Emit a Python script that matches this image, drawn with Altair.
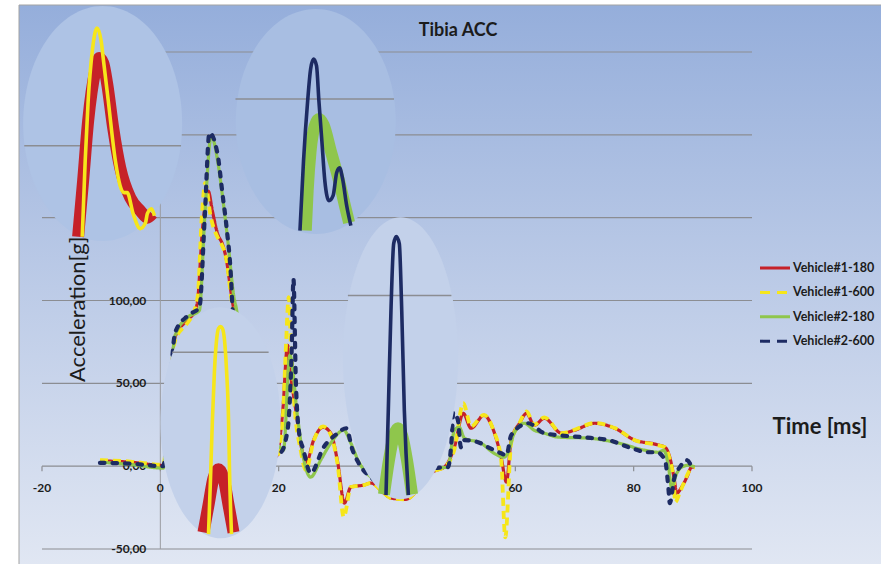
import altair as alt
import pandas as pd

# ---------------------------------------------------------------- series data
series_names = ["Vehicle#1-180", "Vehicle#1-600", "Vehicle#2-180", "Vehicle#2-600"]
series_colors = ["#c62128", "#f6e61a", "#8fc64c", "#1d2b63"]
series_dash = [[1, 0], [8, 5], [1, 0], [4.5, 8]]
series_width = [3.2, 3.8, 3.2, 4.2]
series_cap = ["butt", "butt", "butt", "round"]
legend_dash = [[1, 0], [10, 7], [1, 0], [10, 7]]

v1_180_t = [-10.2, -5, 0.5, 1.5, 2.5, 4.5, 5.9, 6.3, 7.1, 8.1, 8.8, 9.7, 10.5, 11.2, 11.9,
            12.7, 14, 16, 18, 19.6, 20.7, 21.5, 22.0, 22.9, 23.7, 24.7, 25.9, 27.5, 28.8, 30.0,
            31.1, 32.2, 34.4, 35.6, 37.8, 39.0, 41.5, 43.5, 45.2, 46.6, 48.0, 49.7, 51.2, 52.5,
            54.7, 56.3, 57.6, 58.5, 59.3, 60.7, 61.9, 63.2, 64.9, 67.8, 70.0, 73.4, 76.8, 80.2,
            83.6, 85.3, 86.1, 86.8, 87.3, 88.1, 89.0, 89.8, 90.3]
v1_180_a = [3.2, 2.4, 0.5, 40, 78, 88, 94, 100, 142, 166, 154, 140, 134, 124, 106,
            88, 55, 20, 5, 6, 33.7, 72.9, 56, 33.7, 13.9, 2.5, 15.7, 23.5, 19.9, 1.8,
            -22.3, -12.6, -11.4, -10.2, -16.3, -19.3, -20, -14, -5, -2.5, -0.6, 11.4, 31.9, 22.9,
            30.7, 21.7, 5.4, -9.6, 15.7, 25.9, 31.9, 24.7, 28.9, 19.9, 21.7, 25.9, 22.9, 15.7,
            13.3, 11.4, 5.4, -6.6, -16.3, -12.7, -6.6, -0.6, -0.6]

v1_600_t = [-10.2, -5, 0.5, 1.5, 2.5, 4.5, 5.1, 6.3, 7.0, 7.6, 8.5, 9.7, 10.2, 11.2, 11.9,
            12.7, 14, 16, 18, 19.6, 20.7, 21.2, 21.7, 22.1, 22.7, 23.7, 24.6, 25.9, 27.5, 28.8,
            30.0, 31.0, 32.2, 34.4, 35.6, 37.8, 39.0, 41.5, 43.5, 45.2, 46.6, 48.0, 49.7, 51.2,
            52.5, 54.7, 56.3, 57.6, 58.3, 59.3, 60.7, 61.9, 63.2, 64.9, 67.8, 70.0, 73.4, 76.8,
            80.2, 83.6, 85.3, 86.1, 86.8, 87.0, 87.8, 88.5, 89.5, 90.3]
v1_600_a = [3.6, 2.8, 0.8, 40, 76, 86, 89, 102, 150, 171, 151, 138, 135, 124, 104,
            86, 55, 20, 5, 5, 30, 70, 102, 70, 35, 10, -2.4, 15, 24, 19,
            0, -30.7, -12.6, -11.4, -10.2, -16.3, -19.3, -20, -14, -5, -2.5, -0.6, 10, 38,
            24, 31, 21.7, 4, -43, 14, 26, 33, 25, 29.5, 19.9, 22, 26, 23,
            15.7, 13, 11.4, 4, -10, -21.8, -16, -10, -2.4, -0.6]

v2_180_t = [-10.2, -5, 0.5, 1.5, 2.5, 4.7, 6.6, 7.5, 8.6, 9.7, 10.5, 11.5, 12.4, 12.9, 14,
            16, 18, 20.0, 20.8, 21.9, 23.2, 24.1, 25.4, 27.1, 28.8, 31.0, 32.2, 33.5, 36.0, 40.0,
            44.0, 46.3, 48.6, 49.7, 50.5, 51.4, 54.2, 56.4, 58.1, 58.8, 59.8, 61.5, 63.2, 64.9,
            67.3, 72.4, 77.5, 81.9, 84.2, 85.1, 85.9, 86.4, 87.3, 88.1, 89.3, 90.3]
v2_180_a = [2.4, 1, -1.2, 40, 79, 90, 94, 150, 199.4, 184, 163, 133, 103, 94, 60,
            22, 10, 12, 9.6, 67, 29.5, 6.6, -6.6, 3.6, 13.9, 21.7, 13.9, 3, -8, -15,
            -10, -1.2, -0.6, 21.7, 23.5, 16.9, 13.9, 7.8, 5.4, 8.4, 19.9, 25.9, 21.7, 19.9,
            17.5, 16.9, 13.9, 9.6, 8.4, 9.6, -0.6, -12.7, -4.2, -0.6, 0.6, -0.6]

v2_600_t = [-10.2, -5, 0.5, 1.5, 2.5, 4.7, 6.6, 7.5, 8.3, 9.66, 10.5, 11.2, 11.9, 12.2, 12.7,
            14, 16, 18, 20.3, 21.5, 22.2, 22.5, 22.9, 23.4, 24.2, 25.4, 27.6, 30.0, 31.4, 32.5,
            33.5, 36.0, 40.0, 44.0, 46.3, 48.6, 49.3, 49.5, 50.3, 50.8, 51.4, 53.7, 55.4, 57.6,
            58.5, 59.3, 62.2, 64.9, 71.2, 75.8, 79.2, 82.5, 83.9, 85.3, 85.9, 86.1, 86.9, 87.8,
            89.0, 89.8]
v2_600_a = [2, 1.5, 0, 40, 80.7, 91, 95.8, 150, 201.2, 188.6, 164.5, 144, 116.3, 95.8, 82,
            50, 20, 10, 8.4, 21.7, 70, 113, 51.8, 21.7, 9.6, -4.2, 11.4, 19.9, 22.9, 9.6,
            2, -8, -15, -10, -1.2, -0.6, 20, 32.5, 27.7, 11.4, 15.7, 14.5, 11.4, 7.8,
            6.6, 18.7, 25.9, 19.9, 17.5, 15.7, 11.4, 8.4, 8.4, 3.6, -14.5, -22.3, -6.6, -0.6,
            3.6, -0.6]

series_t = [v1_180_t, v1_600_t, v2_180_t, v2_600_t]
series_a = [v1_180_a, v1_600_a, v2_180_a, v2_600_a]

# ------------------------------------------------------- magnified detail views
det1_red_t = [-13.9, -13.05, -12.2, -11.0, -10.34, -9.66, -8.98, -7.97, -6.78, -5.08, -3.39, -2.2, -1.36]
det1_red_a = [138.5, 172.3, 208.4, 238.6, 246.4, 243.4, 230.7, 204.2, 180.1, 162.0, 154.2, 150.0, 152.4]
det1_yel_t = [-13.2, -12.7, -12.2, -11.5, -10.7, -10.0, -9.66, -8.8, -7.6, -6.8, -6.1, -5.6, -4.6,
              -3.4, -2.5, -2.2, -1.5, -1.0]
det1_yel_a = [138.5, 184.3, 220.5, 250.6, 264.5, 256.6, 246.4, 220.5, 184.3, 169.3, 165.1, 165.1, 152.4,
              143.4, 147.0, 152.4, 155.4, 151.2]

det2_grn_t = [24.58, 24.9, 25.4, 26.1, 26.8, 27.6, 28.8, 30.2, 31.2, 31.9]
det2_grn_a = [142.2, 166.3, 190.4, 205.4, 209.6, 206.0, 190.4, 172.3, 157.2, 147.0]
det2_nav_t = [23.6, 24.2, 24.9, 25.4, 25.9, 26.4, 26.8, 27.3, 27.8, 28.5, 29.2, 29.8, 30.3, 30.8, 31.5, 32.2]
det2_nav_a = [142.2, 184.3, 220.5, 239.8, 245.8, 241.6, 220.5, 196.4, 172.3, 160.2, 163.3, 177.1, 180.1,
              173.5, 157.2, 145.2]

det3_red_t = [7.29, 8.14, 8.98, 9.83, 10.68, 11.53, 12.37]
det3_red_a = [-40.0, -23.5, -7.2, -1.8, -7.2, -23.5, -40.0]
det3_yel_t = [8.14, 8.47, 8.8, 9.15, 9.5, 9.83, 10.17, 10.5, 10.85, 11.19, 11.53, 11.69, 12.03]
det3_yel_a = [-41.0, -8.4, 27.7, 57.8, 75.9, 83.1, 84.3, 83.1, 75.9, 57.8, 27.7, -2.4, -41.0]

det4_grn_t = [37.8, 38.64, 39.49, 40.17, 40.85, 41.69, 42.54]
det4_grn_a = [-17.0, 3.6, 18.7, 22.9, 18.7, 3.6, -17.0]
det4_nav_t = [38.14, 38.53, 38.98, 39.44, 39.88, 40.39, 40.8, 41.24, 41.92]
det4_nav_a = [-17.5, 33.7, 94, 134.3, 138.6, 134.3, 94, 33.7, -17.5]

# (series index, wide band?, times, accelerations)
detail_curves = [
    (0, True, det1_red_t, det1_red_a), (1, False, det1_yel_t, det1_yel_a),
    (2, True, det2_grn_t, det2_grn_a), (3, False, det2_nav_t, det2_nav_a),
    (0, True, det3_red_t, det3_red_a), (1, False, det3_yel_t, det3_yel_a),
    (2, True, det4_grn_t, det4_grn_a), (3, False, det4_nav_t, det4_nav_a),
]

# magnifier lenses: centre (ms, g), width/height in px, tint
lens_cx = [-9.75, 26.27, 10.17, 40.59]
lens_cy = [206.9, 208.1, 26.2, 65.1]
lens_w = [159, 160, 120, 115]
lens_h = [235, 225, 231, 282]
lens_fill = ["#aec3e5", "#a8bee2", "#c3d1ea", "#c3d1ea"]

# grid line inside each lens: level (g) and extent (ms)
lens_grid_v = [193.4, 221.7, 68.7, 103.0]
lens_grid_x0 = [-23.0, 12.7, 2.0, 31.7]
lens_grid_x1 = [3.5, 39.5, 18.3, 49.2]

x_ticks = [-20, 0, 20, 40, 60, 80, 100]
y_grid = [-50, 50, 100, 150, 200, 250]
y_labels = [-50, 0, 50, 100]

# ---------------------------------------------------------------- layout
PW, PH = 710, 497
FONT = "Lato, 'Open Sans', sans-serif"
INK = "#1c1c1c"
GRID = "#8b8d92"

xs = alt.Scale(domain=[-20, 100], nice=False, zero=False)
ys = alt.Scale(domain=[-50, 250], nice=False, zero=False)


def X(field):
    return alt.X(field, type="quantitative", scale=xs, axis=None)


def Y(field):
    return alt.Y(field, type="quantitative", scale=ys, axis=None)


one = pd.DataFrame({"k": [0]})

bg_fill = alt.LinearGradient(
    gradient="linear",
    stops=[alt.GradientStop(color="#95aedb", offset=0),
           alt.GradientStop(color="#bccbe7", offset=0.5),
           alt.GradientStop(color="#e1e7f3", offset=1)],
    x1=0, x2=0, y1=0, y2=1)

background = alt.Chart(one).mark_rect(fill=bg_fill, stroke="#a3a3a3", strokeWidth=1).encode(
    x=alt.value(-23), x2=alt.value(PW + 135), y=alt.value(-47), y2=alt.value(PH + 20))

grid_df = pd.DataFrame({"v": y_grid, "x0": -20, "x1": 100})
grid = alt.Chart(grid_df).mark_rule(color=GRID, strokeWidth=1.2).encode(
    x=X("x0"), x2="x1", y=Y("v"))

xaxis_line = alt.Chart(pd.DataFrame({"v": [0], "x0": [-20], "x1": [100]})).mark_rule(
    color=GRID, strokeWidth=1.2).encode(x=X("x0"), x2="x1", y=Y("v"))
yaxis_line = alt.Chart(pd.DataFrame({"v": [0], "y0": [-50], "y1": [250]})).mark_rule(
    color="#9a9ca0", strokeWidth=1).encode(x=X("v"), y=Y("y0"), y2="y1")

tick_df = pd.DataFrame({"t": x_ticks, "a0": 0, "a1": -3})
x_tick_marks = alt.Chart(tick_df).mark_rule(color=GRID, strokeWidth=1.2).encode(
    x=X("t"), y=Y("a0"), y2="a1")
x_tick_labels = alt.Chart(tick_df.assign(lab=[str(v) for v in x_ticks])).mark_text(
    font=FONT, fontSize=12, fontWeight="bold", color=INK, dy=22, baseline="middle").encode(
    x=X("t"), y=Y("a0"), text="lab:N")

ylab_df = pd.DataFrame({"v": y_labels, "x0": 0,
                        "lab": [f"{v:.2f}".replace(".", ",") for v in y_labels]})
y_tick_labels = alt.Chart(ylab_df).mark_text(
    font=FONT, fontSize=12, fontWeight="bold", color=INK, dx=-14, align="right",
    baseline="middle").encode(x=X("x0"), y=Y("v"), text="lab:N")

y_title = alt.Chart(one).mark_text(
    text="Acceleration[g]", font=FONT, fontSize=22, color=INK, angle=270, align="left",
    baseline="middle").encode(x=alt.value(36), y=alt.value(330))

# main traces
traces = []
for i, name in enumerate(series_names):
    df = pd.DataFrame({"t": series_t[i], "a": series_a[i], "series": name})
    traces.append(alt.Chart(df).mark_line(
        color=series_colors[i], strokeWidth=series_width[i], strokeDash=series_dash[i],
        strokeCap=series_cap[i], interpolate="monotone").encode(x=X("t"), y=Y("a")))

# lenses drawn as ellipse-shaped symbols
k = 0.5523
paths = []
for w, h in zip(lens_w, lens_h):
    r = w / h
    paths.append(
        f"M 0 -1 C {k*r:.4f} -1 {r:.4f} {-k} {r:.4f} 0 "
        f"C {r:.4f} {k} {k*r:.4f} 1 0 1 "
        f"C {-k*r:.4f} 1 {-r:.4f} {k} {-r:.4f} 0 "
        f"C {-r:.4f} {-k} {-k*r:.4f} -1 0 -1 Z")
lens_df = pd.DataFrame({"cx": lens_cx, "cy": lens_cy, "fill": lens_fill,
                        "size": [h * h for h in lens_h], "path": paths})
lenses = alt.Chart(lens_df).mark_point(filled=True, opacity=1, strokeWidth=0).encode(
    x=X("cx"), y=Y("cy"),
    shape=alt.Shape("path:N", scale=None),
    size=alt.Size("size:Q", scale=None),
    color=alt.Color("fill:N", scale=None))

lens_grid = alt.Chart(pd.DataFrame({"v": lens_grid_v, "x0": lens_grid_x0, "x1": lens_grid_x1})).mark_rule(
    color=GRID, strokeWidth=1.5).encode(x=X("x0"), x2="x1", y=Y("v"))

detail_layers = []
for si, wide, tt, aa in detail_curves:
    df = pd.DataFrame({"t": tt, "a": aa})
    detail_layers.append(alt.Chart(df).mark_line(
        color=series_colors[si], strokeWidth=12 if wide else 3.6,
        interpolate="monotone", strokeCap="butt").encode(x=X("t"), y=Y("a")))

# legend
legend_layers = []
for i, name in enumerate(series_names):
    ly = 216 + i * 24.4
    legend_layers.append(alt.Chart(one).mark_rule(
        color=series_colors[i], strokeWidth=3, strokeDash=legend_dash[i]).encode(
        x=alt.value(718), x2=alt.value(748), y=alt.value(ly)))
    legend_layers.append(alt.Chart(one).mark_text(
        text=name, font=FONT, fontSize=12.5, fontWeight="bold", color=INK, align="left",
        baseline="middle").encode(x=alt.value(751), y=alt.value(ly)))

title = alt.Chart(one).mark_text(
    text="Tibia ACC", font=FONT, fontSize=18, fontWeight="bold", color=INK,
    align="center", baseline="middle").encode(x=alt.value(416), y=alt.value(-21))
x_title = alt.Chart(one).mark_text(
    text="Time [ms]", font=FONT, fontSize=22, fontWeight="bold", color=INK,
    align="center", baseline="middle").encode(x=alt.value(778), y=alt.value(375))

chart = alt.layer(
    background, grid, xaxis_line, yaxis_line, x_tick_marks, x_tick_labels, y_tick_labels,
    y_title, *traces, lenses, lens_grid, *detail_layers, *legend_layers, title, x_title,
).properties(
    width=PW, height=PH,
    padding={"left": 42, "top": 52, "right": 129, "bottom": 15},
    autosize=alt.AutoSizeParams(type="none"),
    background="#ffffff",
).configure_view(strokeWidth=0)

chart.save("out.html", embed_options={"renderer": "svg", "actions": False})
